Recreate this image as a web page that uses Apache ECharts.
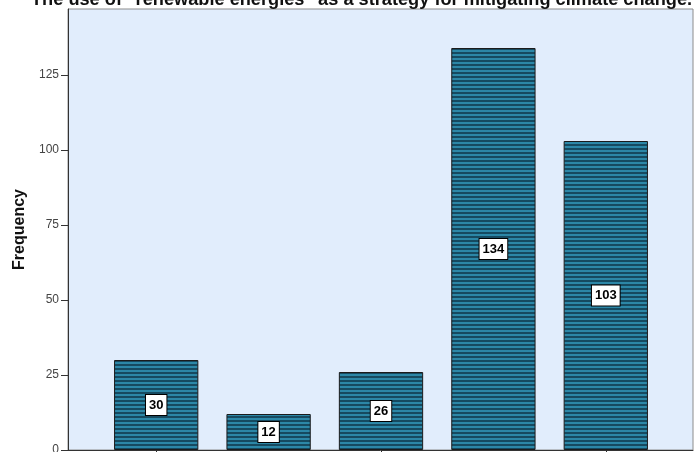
<!DOCTYPE html>
<html>
<head>
<meta charset="utf-8">
<script src="https://cdn.jsdelivr.net/npm/echarts@6/dist/echarts.min.js"></script>
<style>
  html, body { margin: 0; padding: 0; background: #ffffff; }
  #chart { width: 699px; height: 452px; }
</style>
</head>
<body>
<div id="chart"></div>
<script>
// Response categories and their counts
const categories = ['Strongly disagree', 'Disagree', 'Undecided', 'Agree', 'Strongly agree'];
const frequencies = [30, 12, 26, 134, 103];
const yTicks = [0, 25, 50, 75, 100, 125];

const titleText = 'The use of "renewable energies" as a strategy for mitigating climate change.';

// Horizontal stripe fill for the bars
function stripePattern() {
  const c = document.createElement('canvas');
  c.width = 4; c.height = 4;
  const ctx = c.getContext('2d');
  ctx.fillStyle = '#2c87a7';
  ctx.fillRect(0, 0, 4, 4);
  ctx.fillStyle = '#164a60';
  ctx.fillRect(0, 0, 4, 2);
  return { image: c, repeat: 'repeat' };
}

const chart = echarts.init(document.getElementById('chart'), null, { renderer: 'canvas' });
const yMax = 147;
const font = 'Liberation Sans, Arial, sans-serif';

chart.setOption({
  animation: false,
  title: {
    text: titleText,
    left: 26,
    top: -14,
    textStyle: { fontFamily: font, fontSize: 18.2, fontWeight: 'bold', color: '#111' }
  },
  grid: [
    { left: 68, right: 6, top: 9, bottom: 2, show: true, backgroundColor: '#e1edfc',
      borderColor: '#8c8c8c', borderWidth: 1, containLabel: false, outerBoundsMode: 'none' },
    { left: 100, right: 37, top: 9, bottom: 2, containLabel: false, outerBoundsMode: 'none' }
  ],
  xAxis: [
    {
      gridIndex: 0, type: 'value', min: 0, max: 1,
      axisLine: { show: true, onZero: false, lineStyle: { color: '#333', width: 1 } },
      axisTick: { show: false }, axisLabel: { show: false }, splitLine: { show: false }
    },
    {
      gridIndex: 1, type: 'category', data: categories,
      axisLine: { show: false },
      axisTick: { show: true, alignWithLabel: true, length: 5, lineStyle: { color: '#333' } },
      axisLabel: { show: false }
    }
  ],
  yAxis: [
    {
      gridIndex: 0, type: 'value', min: 0, max: yMax,
      name: 'Frequency', nameLocation: 'middle', nameGap: 40,
      nameTextStyle: { fontFamily: font, fontSize: 16, fontWeight: 'bold', color: '#111' },
      axisLine: { show: true, lineStyle: { color: '#333', width: 1 } },
      axisTick: { show: true, inside: false, length: 7, customValues: yTicks, lineStyle: { color: '#333' } },
      axisLabel: {
        margin: 9, color: '#444', fontSize: 12, fontFamily: font,
        customValues: yTicks
      },
      splitLine: { show: false }
    },
    {
      gridIndex: 1, type: 'value', min: 0, max: yMax, show: false
    }
  ],
  series: [{
    type: 'bar',
    xAxisIndex: 1, yAxisIndex: 1,
    data: frequencies,
    barCategoryGap: '25%',
    itemStyle: { color: stripePattern(), borderColor: '#1b1b1b', borderWidth: 1 },
    label: {
      show: true, position: 'inside',
      backgroundColor: '#ffffff', borderColor: '#000', borderWidth: 1,
      padding: [4, 3, 3, 3],
      color: '#000', fontSize: 13, fontWeight: 'bold',
      fontFamily: 'Liberation Sans Narrow, Liberation Sans, Arial, sans-serif'
    }
  }]
});
</script>
</body>
</html>
